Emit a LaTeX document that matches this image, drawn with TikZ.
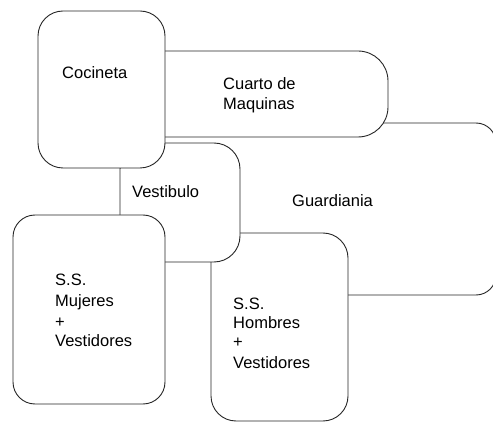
\documentclass[tikz,border=0pt]{standalone}
\usepackage{fontspec}
\setmainfont{Liberation Sans}
\begin{document}
\begin{tikzpicture}[x=1pt,y=-1pt,
  room/.style={draw=black!85,fill=white,line width=0.9pt},
  lbl/.style={anchor=base west,inner sep=0pt,font=\fontsize{16.5}{20}\selectfont}]
\useasboundingbox (0,0) rectangle (493,422);
\clip (0,0) rectangle (493,422);
% rooms, back to front
% Guardiania: its left side lies hidden behind the other rooms
\fill[white] (230,123) rectangle (496,295);
\draw[draw=black!85,line width=0.9pt,rounded corners=20pt]
  (230,123) -- (496,123) -- (496,295) -- (230,295);
\draw[room,rounded corners=30pt] (120,51) rectangle (388,137);    % Cuarto de Maquinas
\draw[room,rounded corners=25pt] (211,233) rectangle (348,421);   % Hombres
\draw[room,rounded corners=26pt] (120,143) rectangle (240,262);   % Vestibulo
\draw[room,rounded corners=22pt] (13,215) rectangle (165,404);    % Mujeres
\draw[room,rounded corners=25pt] (38,11) rectangle (165,168);     % Cocineta
% labels
\node[lbl] (coc) at (62,79) {Cocineta};
\node[lbl] (cua1) at (223,90) {Cuarto de};
\node[lbl] (cua2) at (223,110) {Maquinas};
\node[lbl] (ves) at (132,198) {Vestibulo};
\node[lbl] (gua) at (292,207) {Guardiania};
\node[lbl] (m1) at (55,286) {S.S.};
\node[lbl] (m2) at (55,307) {Mujeres};
\node[lbl] (m3) at (55,327) {+};
\node[lbl] (m4) at (55,346) {Vestidores};
\node[lbl] (h1) at (233,309) {S.S.};
\node[lbl] (h2) at (233,328) {Hombres};
\node[lbl] (h3) at (233,347) {+};
\node[lbl] (h4) at (233,368) {Vestidores};
\end{tikzpicture}
\end{document}
